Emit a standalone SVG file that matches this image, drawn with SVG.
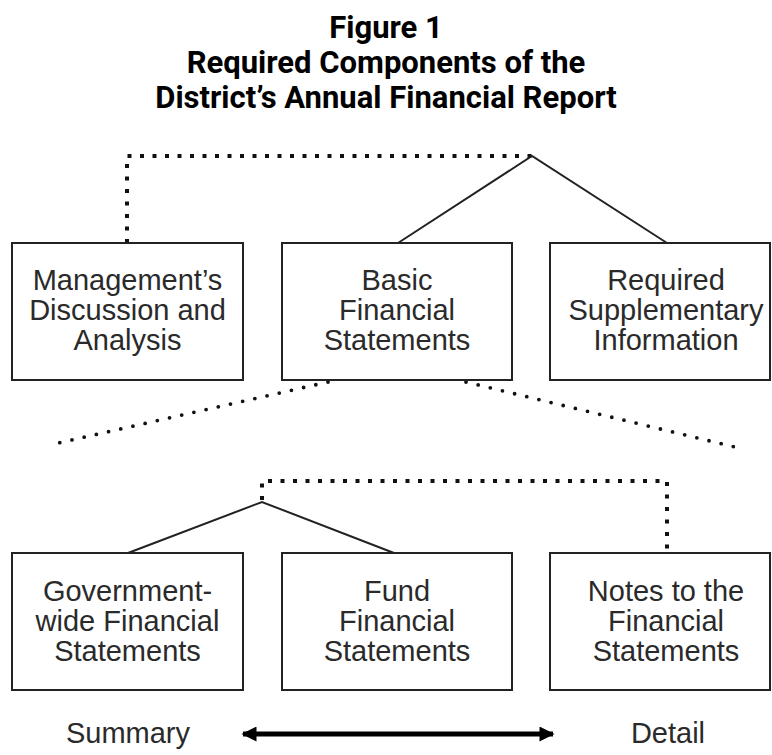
<svg xmlns="http://www.w3.org/2000/svg" width="772" height="755" viewBox="0 0 772 755">
<defs>
<style>
.title{font-family:Roboto,"Liberation Sans",sans-serif;font-weight:bold;font-size:31px;fill:#000;text-anchor:middle}
.box{fill:#fff;stroke:#222;stroke-width:2}
.lbl{font-family:"Liberation Sans",Arial,sans-serif;font-size:29px;fill:#2a2a2a;text-anchor:middle}
.solid{fill:none;stroke:#222;stroke-width:2}
.sq{fill:none;stroke:#111;stroke-width:4;stroke-dasharray:4 8.5}
.dot{fill:none;stroke:#111;stroke-width:3.8;stroke-linecap:round;stroke-dasharray:0 12.5}
</style>
<marker id="ah" viewBox="0 0 10 10" refX="9" refY="5" markerWidth="3.4" markerHeight="3" orient="auto-start-reverse" markerUnits="strokeWidth">
<path d="M0,0 L10,5 L0,10 Z" fill="#000"/>
</marker>
</defs>
<rect width="772" height="755" fill="#fff"/>
<g id="title">
<text class="title" x="386" y="38">Figure 1</text>
<text class="title" x="386" y="73">Required Components of the</text>
<text class="title" x="386" y="108">District’s Annual Financial Report</text>
</g>
<g id="connectors">
<path class="sq" d="M127,243 V156 H532"/>
<path class="solid" d="M398,243 L532,156 L667,243"/>
<path class="dot" d="M328,382 L54,444"/>
<path class="dot" d="M466,382 L739,448"/>
<path class="sq" d="M262,500 V481 H667 V553"/>
<path class="solid" d="M128,553 L262,502 L394,553"/>
<line x1="243" y1="734" x2="553" y2="734" stroke="#000" stroke-width="5" marker-start="url(#ah)" marker-end="url(#ah)"/>
</g>
<g id="mda">
<rect class="box" x="12" y="243" width="231" height="137"/>
<text class="lbl" x="127.5" y="290">Management’s</text>
<text class="lbl" x="127.5" y="320">Discussion and</text>
<text class="lbl" x="127.5" y="350">Analysis</text>
</g>
<g id="bfs">
<rect class="box" x="282" y="243" width="230" height="137"/>
<text class="lbl" x="397" y="290">Basic</text>
<text class="lbl" x="397" y="320">Financial</text>
<text class="lbl" x="397" y="350">Statements</text>
</g>
<g id="rsi">
<rect class="box" x="550" y="243" width="220" height="137"/>
<text class="lbl" x="666" y="290">Required</text>
<text class="lbl" x="666" y="320">Supplementary</text>
<text class="lbl" x="666" y="350">Information</text>
</g>
<g id="gwfs">
<rect class="box" x="12" y="553" width="231" height="137"/>
<text class="lbl" x="127.5" y="601">Government-</text>
<text class="lbl" x="127.5" y="631">wide Financial</text>
<text class="lbl" x="127.5" y="661">Statements</text>
</g>
<g id="ffs">
<rect class="box" x="282" y="553" width="230" height="137"/>
<text class="lbl" x="397" y="601">Fund</text>
<text class="lbl" x="397" y="631">Financial</text>
<text class="lbl" x="397" y="661">Statements</text>
</g>
<g id="notes">
<rect class="box" x="550" y="553" width="220" height="137"/>
<text class="lbl" x="666" y="601">Notes to the</text>
<text class="lbl" x="666" y="631">Financial</text>
<text class="lbl" x="666" y="661">Statements</text>
</g>
<g id="scale">
<text class="lbl" x="128" y="743">Summary</text>
<text class="lbl" x="668" y="743">Detail</text>
</g>
</svg>
